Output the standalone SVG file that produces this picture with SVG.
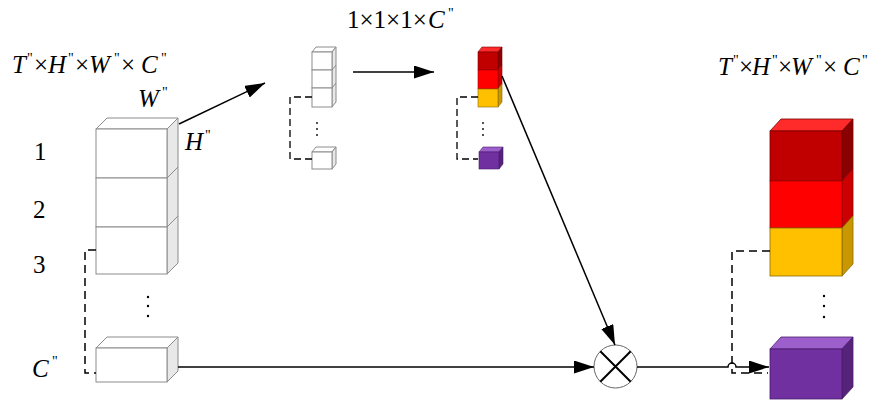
<svg xmlns="http://www.w3.org/2000/svg" width="873" height="402" viewBox="0 0 873 402">
  <style>
    .it { font-style: italic; }
    .q { font-size: 14px; }
    .wire { fill: none; stroke: #000; stroke-width: 1.5; }
    .dash { fill: none; stroke: #000; stroke-width: 1.5; stroke-dasharray: 8 5; }
    .sdash { fill: none; stroke: #000; stroke-width: 1.3; stroke-dasharray: 7 4; }
    .wf { fill: #fff; stroke: #8c8c8c; stroke-width: 1; }
    .ws { fill: #e8e8e8; stroke: #8c8c8c; stroke-width: 1; }
    .dot { fill: #000; }
  </style>
  <defs>
    <marker id="arrow" markerUnits="userSpaceOnUse" markerWidth="22" markerHeight="14" refX="20" refY="6.5" orient="auto">
      <path d="M0,0 L20,6.5 L0,13 Z" fill="#000"/>
    </marker>
  </defs>

  <!-- labels -->
  <g id="labels" font-family="'Liberation Serif', 'Times New Roman', serif" font-size="25" fill="#000">
    <text x="12" y="73" class="it">T</text><text x="27" y="63" class="q">"</text>
    <text x="34" y="73">×</text>
    <text x="48" y="73" class="it">H</text><text x="68" y="63" class="q">"</text>
    <text x="75" y="73">×</text>
    <text x="89" y="73" class="it">W</text><text x="114" y="63" class="q">"</text>
    <text x="121" y="73">×</text>
    <text x="141" y="73" class="it">C</text><text x="161" y="63" class="q">"</text>

    <text x="347" y="28">1×1×1×</text>
    <text x="428" y="28" class="it">C</text><text x="448" y="18" class="q">"</text>

    <text x="718" y="75" class="it">T</text><text x="733" y="65" class="q">"</text>
    <text x="739" y="75">×</text>
    <text x="752" y="75" class="it">H</text><text x="772" y="65" class="q">"</text>
    <text x="778" y="75">×</text>
    <text x="791" y="75" class="it">W</text><text x="816" y="65" class="q">"</text>
    <text x="823" y="75">×</text>
    <text x="843" y="75" class="it">C</text><text x="862" y="65" class="q">"</text>

    <text x="138" y="107" class="it">W</text><text x="162" y="97" class="q">"</text>
    <text x="185" y="150" class="it">H</text><text x="205" y="140" class="q">"</text>
    <text x="115" y="177" class="it">T</text><text x="131" y="167" class="q">"</text>

    <text x="34" y="160">1</text>
    <text x="33" y="218">2</text>
    <text x="33" y="273">3</text>
    <text x="32" y="377" class="it">C</text><text x="52" y="366" class="q">"</text>
  </g>

  <!-- input tensor: stacked channel blocks -->
  <g id="input-stack">
    <polygon class="wf" points="96,129 107,118 178,118 167,129"/>
    <polygon class="ws" points="167,129 178,118 178,263 167,274"/>
    <rect class="wf" x="96" y="129" width="71" height="49"/>
    <rect class="wf" x="96" y="178" width="71" height="49"/>
    <rect class="wf" x="96" y="227" width="71" height="47"/>
    <path d="M167,178 L178,167 M167,227 L178,216" stroke="#8c8c8c" fill="none"/>
  </g>
  <g id="input-dots">
    <circle class="dot" cx="148" cy="297" r="1.2"/>
    <circle class="dot" cx="148" cy="306" r="1.2"/>
    <circle class="dot" cx="148" cy="316" r="1.2"/>
  </g>
  <g id="input-last">
    <polygon class="wf" points="96,348 107,337 178,337 167,348"/>
    <polygon class="ws" points="167,348 178,337 178,371 167,382"/>
    <rect class="wf" x="96" y="348" width="71" height="34"/>
  </g>

  <!-- pooled vector -->
  <g id="pooled-stack">
    <polygon class="wf" points="312,52 316,47 336,47 332,52"/>
    <polygon class="ws" points="332,52 336,47 336,102 332,107"/>
    <rect class="wf" x="312" y="52" width="20" height="18"/>
    <rect class="wf" x="312" y="70" width="20" height="18"/>
    <rect class="wf" x="312" y="88" width="20" height="19"/>
    <path d="M332,70 L336,65 M332,88 L336,83" stroke="#8c8c8c" fill="none"/>
    <circle class="dot" cx="317" cy="123" r="0.9"/>
    <circle class="dot" cx="317" cy="129" r="0.9"/>
    <circle class="dot" cx="317" cy="135" r="0.9"/>
    <polygon class="wf" points="312,152 316,147 336,147 332,152"/>
    <polygon class="ws" points="332,152 336,147 336,164 332,169"/>
    <rect class="wf" x="312" y="152" width="20" height="17"/>
  </g>

  <!-- channel weights -->
  <g id="weight-stack" stroke-width="0.6">
    <polygon points="478,52 482,47 502,47 498,52" fill="#ff2a2a" stroke="#7a0000"/>
    <polygon points="498,52 502,47 502,65 498,70" fill="#8b0000" stroke="#7a0000"/>
    <rect x="478" y="52" width="20" height="18" fill="#c00000" stroke="#7a0000"/>
    <polygon points="498,70 502,65 502,84 498,89" fill="#cc0000" stroke="#8b0000"/>
    <rect x="478" y="70" width="20" height="19" fill="#ff0000" stroke="#a00000"/>
    <polygon points="498,89 502,84 502,102 498,107" fill="#c99700" stroke="#8a6a00"/>
    <rect x="478" y="89" width="20" height="18" fill="#ffc000" stroke="#8a6a00"/>
    <circle class="dot" cx="483" cy="123" r="0.9"/>
    <circle class="dot" cx="483" cy="129" r="0.9"/>
    <circle class="dot" cx="483" cy="135" r="0.9"/>
    <polygon points="479,152 483,147 503,147 499,152" fill="#9d5fcb" stroke="#4a1d6b"/>
    <polygon points="499,152 503,147 503,164 499,169" fill="#55237a" stroke="#4a1d6b"/>
    <rect x="479" y="152" width="20" height="17" fill="#7030a0" stroke="#4a1d6b"/>
  </g>

  <!-- multiply node -->
  <g id="multiply">
    <circle cx="615.5" cy="366.5" r="21.5" fill="#fff" stroke="#666" stroke-width="1"/>
    <path d="M600.3,351.3 L630.7,381.7 M630.7,351.3 L600.3,381.7" stroke="#000" stroke-width="2" fill="none"/>
  </g>

  <!-- output tensor: weighted channel blocks -->
  <g id="output-stack" stroke-width="0.8">
    <polygon points="770,131 781,119 853,119 842,131" fill="#ff2a2a" stroke="#7a0000"/>
    <polygon points="842,131 853,119 853,169 842,181" fill="#8b0000" stroke="#7a0000"/>
    <rect x="770" y="131" width="72" height="50" fill="#c00000" stroke="#7a0000"/>
    <polygon points="842,181 853,169 853,216 842,228" fill="#cc0000" stroke="#8b0000"/>
    <rect x="770" y="181" width="72" height="47" fill="#ff0000" stroke="#a00000"/>
    <polygon points="842,228 853,216 853,264 842,276" fill="#c99700" stroke="#8a6a00"/>
    <rect x="770" y="228" width="72" height="48" fill="#ffc000" stroke="#8a6a00"/>
  </g>
  <g id="output-dots">
    <circle class="dot" cx="824" cy="296" r="1.2"/>
    <circle class="dot" cx="824" cy="306" r="1.2"/>
    <circle class="dot" cx="824" cy="317" r="1.2"/>
  </g>
  <g id="output-last" stroke-width="0.8">
    <polygon points="770,349 781,337 853,337 842,349" fill="#9d5fcb" stroke="#4a1d6b"/>
    <polygon points="842,349 853,337 853,387 842,399" fill="#55237a" stroke="#4a1d6b"/>
    <rect x="770" y="349" width="72" height="50" fill="#7030a0" stroke="#4a1d6b"/>
  </g>

  <!-- connectors -->
  <g id="connectors">
    <path class="dash" d="M96,250 H85 V373 H96"/>
    <path class="sdash" d="M312,97 H290 V159 H312"/>
    <path class="sdash" d="M478,97 H457 V159 H478"/>
    <path class="dash" d="M770,251 H732 V373 H768"/>
    <path class="wire" d="M179,124 L265,83" marker-end="url(#arrow)"/>
    <path class="wire" d="M353,72 L434,72" marker-end="url(#arrow)"/>
    <path class="wire" d="M502,76 L615,345" marker-end="url(#arrow)"/>
    <path class="wire" d="M178,367 L594,367" marker-end="url(#arrow)"/>
    <path class="wire" d="M637,367 H728 A4,4 0 0 1 736,367 H769" marker-end="url(#arrow)"/>
  </g>
</svg>
